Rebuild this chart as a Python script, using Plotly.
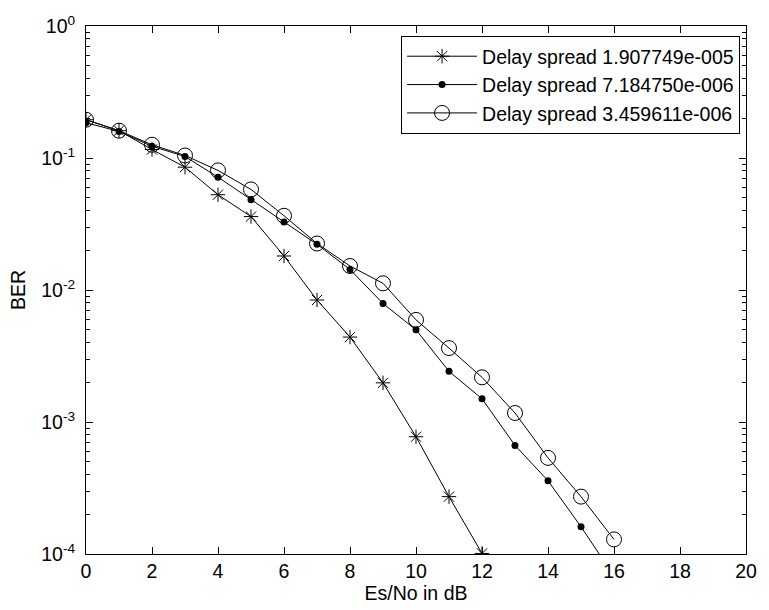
import plotly.graph_objects as go

snr = [0, 1, 2, 3, 4, 5, 6, 7, 8, 9, 10, 11, 12, 13, 14, 15, 16]

ber_s1 = [0.195, 0.161, 0.116, 0.0852, 0.0527, 0.036, 0.0181, 0.0084, 0.0044,
          0.00198, 0.000773, 0.000272, 0.000101]
ber_s2 = [0.185, 0.159, 0.1228, 0.1026, 0.0716, 0.0482, 0.0328, 0.0222, 0.0143,
          0.0079, 0.00499, 0.00242, 0.0015, 0.000665, 0.000359, 0.000161, 0.000068]
ber_s3 = [0.195, 0.161, 0.126, 0.1045, 0.0805, 0.0578, 0.0365, 0.0225, 0.0152,
          0.01124, 0.00594, 0.00363, 0.00218, 0.00117, 0.000535, 0.000272, 0.000129]

names = ["Delay spread 1.907749e-005",
         "Delay spread 7.184750e-006",
         "Delay spread 3.459611e-006"]

x_ticks = [0, 2, 4, 6, 8, 10, 12, 14, 16, 18, 20]
y_tickvals = [1e-4, 1e-3, 1e-2, 1e-1, 1]
y_ticktext = ["10<sup>-4</sup>", "10<sup>-3</sup>", "10<sup>-2</sup>",
              "10<sup>-1</sup>", "10<sup>0</sup>"]
y_minor = [m * 10.0 ** e for e in range(-4, 0) for m in range(2, 10)]

FONT = "Liberation Sans, Arial, sans-serif"
FS = 19.5

fig = go.Figure()
fig.add_trace(go.Scatter(x=snr[:len(ber_s1)], y=ber_s1, mode="lines+markers", name=names[0],
                         line=dict(color="black", width=1),
                         marker=dict(symbol="asterisk-open", size=12, color="black",
                                     line=dict(color="black", width=1))))
fig.add_trace(go.Scatter(x=snr, y=ber_s2, mode="lines+markers", name=names[1],
                         line=dict(color="black", width=1),
                         marker=dict(symbol="circle", size=7, color="black")))
fig.add_trace(go.Scatter(x=snr, y=ber_s3, mode="lines+markers", name=names[2],
                         line=dict(color="black", width=1),
                         marker=dict(symbol="circle-open", size=15, color="black",
                                     line=dict(color="black", width=1))))

fig.update_layout(
    width=769, height=610,
    margin=dict(l=86, r=12, t=26, b=56),
    paper_bgcolor="white", plot_bgcolor="white",
    font=dict(family=FONT, size=FS, color="black"),
    showlegend=True,
    legend=dict(x=0.991, xanchor="right", y=0.981, yanchor="top",
                bgcolor="white", bordercolor="black", borderwidth=1,
                font=dict(family=FONT, size=FS, color="black"),
                itemwidth=70),
)
fig.update_xaxes(range=[0, 20], tickvals=x_ticks, ticks="inside", ticklen=7,
                 tickcolor="black", showline=True, linecolor="black", linewidth=1,
                 mirror="ticks", showgrid=False, zeroline=False,
                 title=dict(text="Es/No in dB", font=dict(family=FONT, size=FS), standoff=2),
                 tickfont=dict(family=FONT, size=FS))
fig.update_yaxes(type="log", range=[-4, 0], tickmode="array", tickvals=y_tickvals,
                 ticktext=y_ticktext, ticks="inside", ticklen=7, tickcolor="black",
                 showline=True, linecolor="black", linewidth=1, mirror="ticks",
                 showgrid=False, zeroline=False,
                 minor=dict(tickmode="array", tickvals=y_minor, ticks="inside",
                            ticklen=4, tickcolor="black", showgrid=False),
                 title=dict(text="BER", font=dict(family=FONT, size=FS), standoff=10),
                 tickfont=dict(family=FONT, size=FS), ticklabelstandoff=6)

fig.write_html("out.html")
